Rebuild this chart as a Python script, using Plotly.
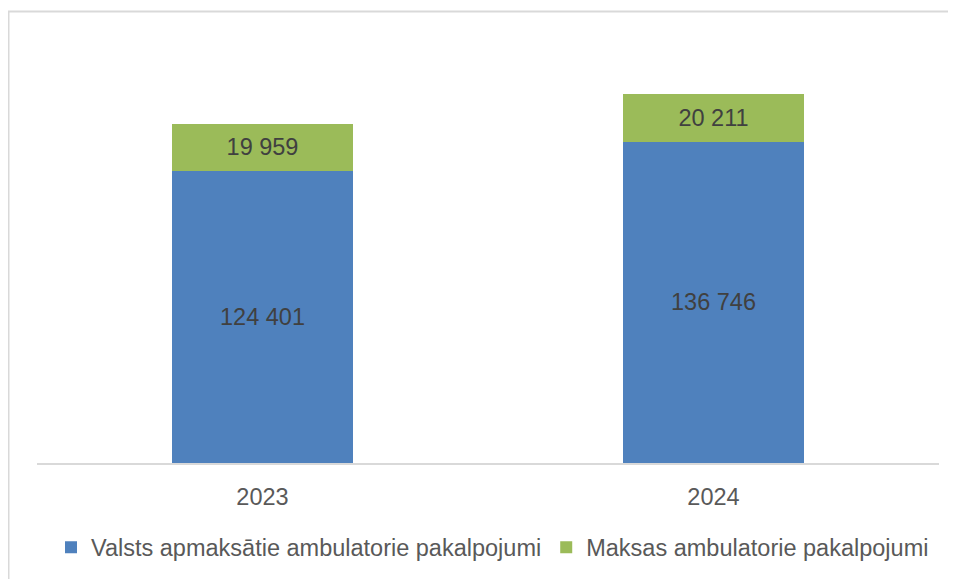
import plotly.graph_objects as go

years = ["2023", "2024"]
state_paid = [124401, 136746]
paid = [19959, 20211]
series_names = ["Valsts apmaksātie ambulatorie pakalpojumi", "Maksas ambulatorie pakalpojumi"]
colors = ["#4f81bd", "#9bbb59"]

FONT = "Liberation Sans, Arial, sans-serif"

fig = go.Figure()
for vals, name, col in zip([state_paid, paid], series_names, colors):
    fig.add_trace(go.Bar(
        x=years, y=vals, name=name,
        marker=dict(color=col, line=dict(width=0)),
        texttemplate="%{y:,}", textposition="inside", insidetextanchor="middle",
        textfont=dict(size=23.5, color="#404040", family=FONT),
        constraintext="none",
    ))

# page body has an ~8px margin, so the figure is placed at (8, 8)
OX, OY = 8, 8
W, H = 956 - OX, 579 - OY
# reference pixel positions (window coords)
PL, PR, PT, PB = 37, 939, 40, 463.5
L, R, T, B = PL - OX, W - (PR - OX), PT - OY, H - (PB - OY)
pw, ph = W - L - R, H - T - B

def px_x(px):
    return (px - OX - L) / pw

def px_y(py):
    return (H - B - (py - OY)) / ph

fig.update_layout(
    width=W, height=H,
    barmode="stack", bargap=0.6,
    separators=", ",
    paper_bgcolor="white", plot_bgcolor="white",
    margin=dict(l=L, r=R, t=T, b=B, pad=0, autoexpand=False),
    font=dict(family=FONT, color="#595959", size=23.5),
    xaxis=dict(showline=True, linecolor="#d9d9d9", linewidth=1.5, ticks="", showgrid=False,
               tickfont=dict(size=23.5, color="#595959"), ticklabelstandoff=12),
    yaxis=dict(visible=False, range=[0, 180000], showgrid=False),
    legend=dict(orientation="h", x=px_x(51), xanchor="left", y=px_y(548), yanchor="middle",
                font=dict(size=23.5, color="#595959"), traceorder="normal"),
    showlegend=True,
    shapes=[dict(type="rect", xref="paper", yref="paper",
                 x0=px_x(8.5), x1=px_x(975), y0=px_y(600), y1=px_y(11.5),
                 line=dict(color="#d9d9d9", width=2), fillcolor="rgba(0,0,0,0)", layer="below")],
)

fig.write_html("out.html")
